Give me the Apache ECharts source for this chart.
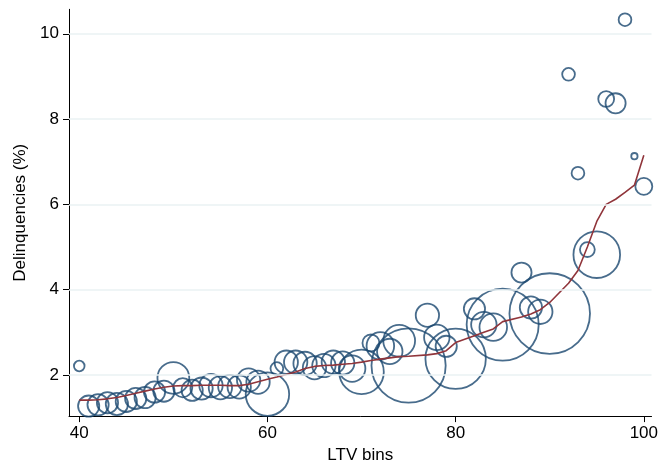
<!DOCTYPE html>
<html>
<head>
<meta charset="utf-8">
<script src="https://cdn.jsdelivr.net/npm/echarts@6/dist/echarts.min.js"></script>
<style>
  html, body { margin: 0; padding: 0; background: #ffffff; }
  #chart { width: 661px; height: 469px; }
</style>
</head>
<body>
<div id="chart"></div>
<script>
// LTV bins (x), delinquency rate (%) per bin, relative bin weight (bubble area)
const ltvBins = [40,41,42,43,44,45,46,47,48,49,50,51,52,53,54,55,56,57,58,59,60,61,62,63,64,65,66,67,68,69,70,71,72,73,74,75,77,78,79,80,82,83,84,85,87,88,89,90,92,93,94,95,96,97,98,99,100];
const delinquency = [2.21,1.27,1.30,1.35,1.32,1.38,1.45,1.47,1.60,1.62,1.93,1.70,1.64,1.68,1.75,1.70,1.73,1.72,1.88,1.83,1.55,2.15,2.30,2.30,2.27,2.17,2.22,2.30,2.28,2.15,2.07,2.75,2.68,2.55,2.80,2.22,3.40,2.88,2.67,2.38,3.55,3.18,3.12,3.18,4.40,3.58,3.48,3.44,9.05,6.73,4.94,4.82,8.47,8.37,10.33,7.13,6.42];
const binWeight = [25,100,100,100,110,100,100,100,100,100,225,81,100,110,121,121,121,121,121,121,420,36,121,121,121,121,121,121,121,156,441,64,169,144,225,1225,121,144,100,812,100,144,169,1156,90,110,132,1444,36,36,49,484,56,90,36,9,64];
// fitted (smoothed) delinquency at each bin
const fitted = [1.41,1.41,1.42,1.44,1.47,1.52,1.57,1.62,1.67,1.71,1.74,1.75,1.75,1.76,1.76,1.76,1.75,1.75,1.78,1.84,1.90,1.95,2.01,2.07,2.15,2.20,2.22,2.23,2.25,2.27,2.30,2.34,2.37,2.40,2.43,2.44,2.47,2.50,2.57,2.76,2.92,3.00,3.08,3.25,3.36,3.43,3.53,3.70,4.15,4.45,5.00,5.60,6.00,6.12,6.28,6.45,7.15];
const xTicks = [40,60,80,100];
const yTicks = [2,4,6,8,10];

const FONT = '"Liberation Sans", Arial, sans-serif';
const chart = echarts.init(document.getElementById('chart'), null, { renderer: 'canvas' });

const bubbleData = ltvBins.map((x, i) => [x, delinquency[i], binWeight[i]]);
const lineData = ltvBins.map((x, i) => [x, fitted[i]]);

chart.setOption({
  animation: false,
  backgroundColor: '#ffffff',
  grid: { left: 69, right: 5, top: 9.3, bottom: 46, containLabel: false },
  xAxis: {
    type: 'value',
    min: 38.91, max: 100.82,
    name: 'LTV bins',
    nameLocation: 'middle',
    nameGap: 24,
    nameTextStyle: { fontFamily: FONT, fontSize: 17, color: '#000' },
    axisLine: { show: true, onZero: false, lineStyle: { color: '#000', width: 1 } },
    axisTick: { show: true, length: 6, customValues: xTicks, lineStyle: { color: '#000' } },
    axisLabel: { customValues: xTicks, margin: 9, fontFamily: FONT, fontSize: 17, color: '#000' },
    splitLine: { show: false }
  },
  yAxis: {
    type: 'value',
    min: 1.035, max: 10.574,
    name: 'Delinquencies (%)',
    nameLocation: 'middle',
    nameGap: 39,
    nameRotate: 90,
    nameTextStyle: { fontFamily: FONT, fontSize: 17, color: '#000' },
    axisLine: { show: true, onZero: false, lineStyle: { color: '#000', width: 1 } },
    axisTick: { show: true, length: 6, customValues: yTicks, lineStyle: { color: '#000' } },
    axisLabel: { customValues: yTicks, margin: 10, fontFamily: FONT, fontSize: 17, color: '#000' },
    splitLine: { show: false }
  },
  series: [
    {
      type: 'line',
      data: [],
      z: 1,
      silent: true,
      markLine: {
        silent: true,
        symbol: ['none', 'none'],
        label: { show: false },
        lineStyle: { color: '#eaf2f3', width: 1.5, type: 'solid' },
        data: yTicks.map(v => ({ yAxis: v }))
      }
    },
    {
      type: 'scatter',
      data: bubbleData,
      z: 2,
      symbol: 'circle',
      symbolSize: function (val) { return 2.12 * Math.sqrt(val[2]); },
      itemStyle: { color: 'rgba(0,0,0,0)', borderColor: '#1a476f', borderWidth: 1.8 }
    },
    {
      type: 'line',
      data: lineData,
      z: 3,
      showSymbol: false,
      symbol: 'none',
      lineStyle: { color: '#90353b', width: 1.6 }
    }
  ]
});
</script>
</body>
</html>
